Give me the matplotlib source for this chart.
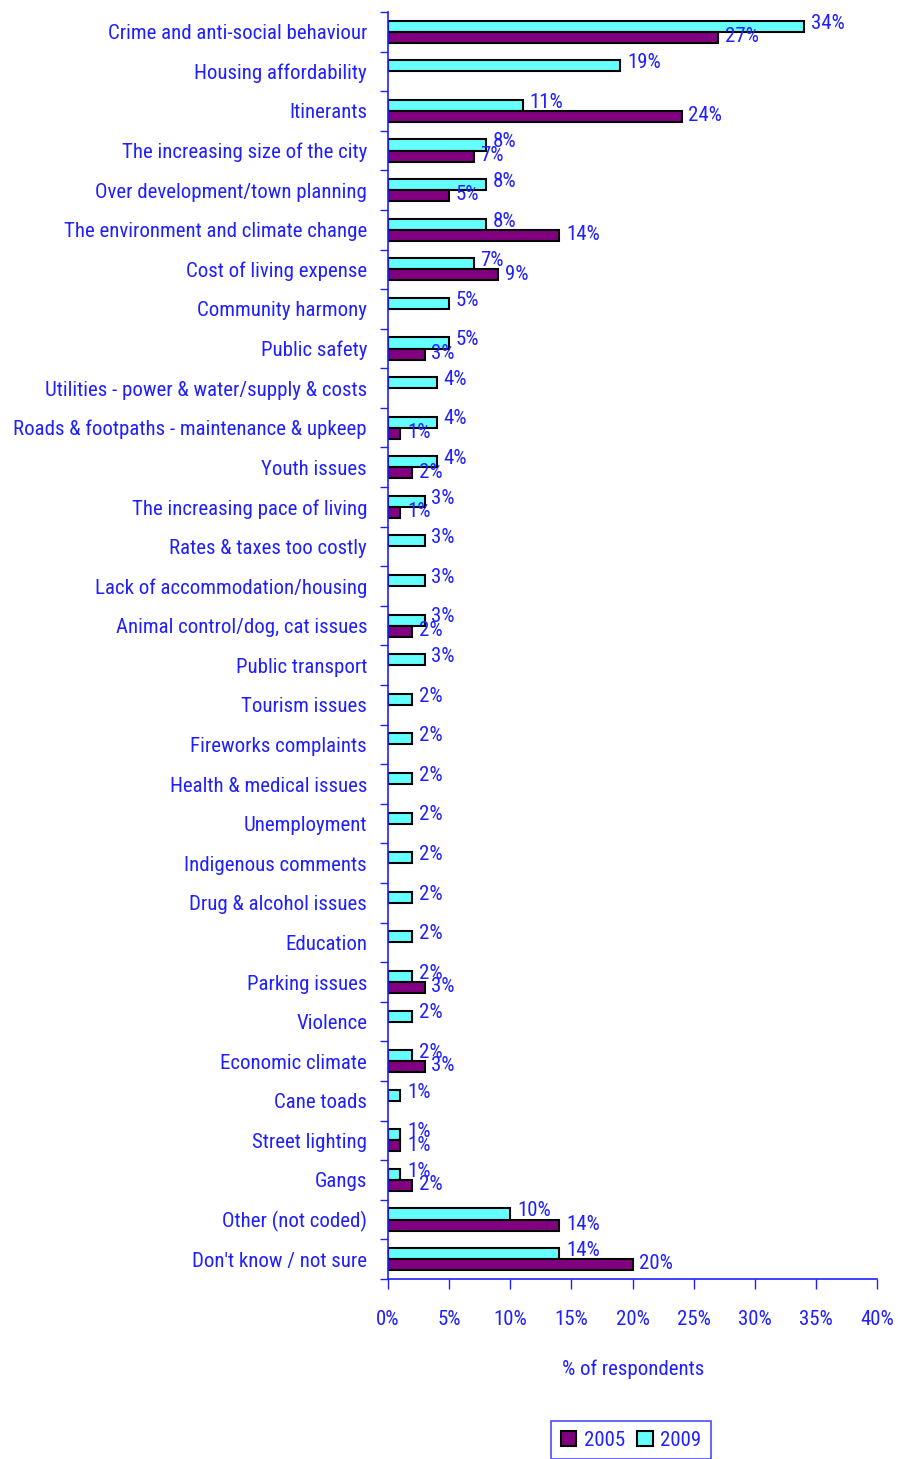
import numpy as np
import matplotlib
matplotlib.use("Agg")
from matplotlib import pyplot as plt
from matplotlib.ticker import FixedLocator, PercentFormatter
from matplotlib.patches import Patch
from matplotlib import font_manager

# categories (top to bottom) and % of respondents
categorie = [
    "Crime and anti-social behaviour", "Housing affordability", "Itinerants",
    "The increasing size of the city", "Over development/town planning",
    "The environment and climate change", "Cost of living expense",
    "Community harmony", "Public safety", "Utilities - power & water/supply & costs",
    "Roads & footpaths - maintenance & upkeep", "Youth issues",
    "The increasing pace of living", "Rates & taxes too costly",
    "Lack of accommodation/housing", "Animal control/dog, cat issues",
    "Public transport", "Tourism issues", "Fireworks complaints",
    "Health & medical issues", "Unemployment", "Indigenous comments",
    "Drug & alcohol issues", "Education", "Parking issues", "Violence",
    "Economic climate", "Cane toads", "Street lighting", "Gangs",
    "Other (not coded)", "Don't know / not sure",
]
val_2009 = [34, 19, 11, 8, 8, 8, 7, 5, 5, 4, 4, 4, 3, 3, 3, 3, 3, 2, 2, 2, 2, 2,
            2, 2, 2, 2, 2, 1, 1, 1, 10, 14]
val_2005 = [27, None, 24, 7, 5, 14, 9, None, 3, None, 1, 2, 1, None, None, 2,
            None, None, None, None, None, None, None, None, 3, None, 3, None, 1, 2,
            14, 20]

blu = "#2020ff"
viola = "#800080"
ciano = "#66ffff"

# font stretto se disponibile
nomi = {f.name for f in font_manager.fontManager.ttflist}
stretti = [n for n in ["Liberation Sans Narrow", "Roboto Condensed", "Open Sans Condensed",
                       "Arial Narrow", "DejaVu Sans Condensed"] if n in nomi]
famiglia = stretti[0] if stretti else "Liberation Sans"
narrow = bool(stretti)
plt.rcParams["font.family"] = [famiglia, "DejaVu Sans"]
fs = 15 if narrow else 13

fig = plt.figure(figsize=(8.98, 14.59), dpi=100)
ax = fig.add_axes([0.432, 0.1234, 0.545, 0.8684])

y = np.arange(len(categorie))
h = 0.28
ax.barh(y - h / 2, val_2009, height=h, color=ciano, edgecolor="black", linewidth=1.5)
mask = np.array([v is not None for v in val_2005])
ax.barh(y[mask] + h / 2, [v for v in val_2005 if v is not None], height=h,
        color=viola, edgecolor="black", linewidth=1.5)

for i, v in enumerate(val_2009):
    ax.text(v + 0.55, y[i] - h / 2 - 0.08, "%d%%" % v, color=blu, fontsize=fs,
            va="center", ha="left")
for i, v in enumerate(val_2005):
    if v is None:
        continue
    ax.text(v + 0.55, y[i] + h / 2 - 0.02, "%d%%" % v, color=blu, fontsize=fs,
            va="center", ha="left")

ax.set_xlim(0, 40)
ax.set_ylim(len(categorie) - 0.5, -0.5)
ax.set_xticks(np.arange(0, 41, 5))
ax.xaxis.set_major_formatter(PercentFormatter(decimals=0))
ax.set_yticks(y)
ax.set_yticklabels(categorie)
ax.yaxis.set_minor_locator(FixedLocator(np.arange(-0.5, len(categorie), 1)))
ax.tick_params(axis="y", which="major", length=0, pad=15, labelsize=fs, labelcolor=blu)
ax.tick_params(axis="y", which="minor", length=6, color=blu, width=1)
ax.tick_params(axis="x", length=7, color=blu, width=1, pad=15, labelsize=fs,
               labelcolor=blu)
for s in ["top", "right"]:
    ax.spines[s].set_visible(False)
for s in ["left", "bottom"]:
    ax.spines[s].set_color(blu)
    ax.spines[s].set_linewidth(1.2)
ax.set_xlabel("% of respondents", color=blu, fontsize=fs, labelpad=22)

leg = fig.legend(handles=[Patch(facecolor=viola, edgecolor="black", linewidth=1.5, label="2005"),
                          Patch(facecolor=ciano, edgecolor="black", linewidth=1.5, label="2009")],
                 loc="center", bbox_to_anchor=(631 / 898, 1 - 1440 / 1459), ncol=2,
                 fontsize=fs, frameon=True, fancybox=False, handlelength=0.75,
                 handleheight=0.75, handletextpad=0.35, columnspacing=0.6,
                 borderpad=0.45, borderaxespad=0)
leg.get_frame().set_edgecolor(blu)
leg.get_frame().set_linewidth(1.2)
for t in leg.get_texts():
    t.set_color(blu)

fig.savefig("out.png", dpi=100)
